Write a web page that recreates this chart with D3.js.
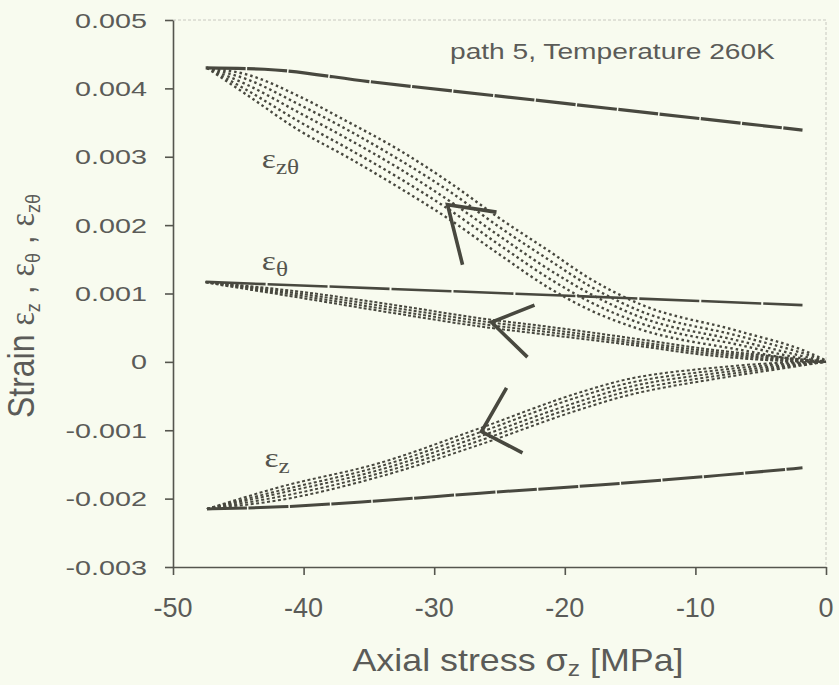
<!DOCTYPE html>
<html>
<head>
<meta charset="utf-8">
<script src="https://cdn.jsdelivr.net/npm/d3@7"></script>
<style>
  body { margin: 0; background: #f8fbef; }
  svg { display: block; }
</style>
</head>
<body>
<script>
// strain values are in units of 1e-3, stress in MPa

// axis ticks
const xTicks = [-50, -40, -30, -20, -10, 0];
const yTicks = [5, 4, 3, 2, 1, 0, -1, -2, -3];
const yTickLabels = ["0.005", "0.004", "0.003", "0.002", "0.001", "0", "-0.001", "-0.002", "-0.003"];

// eps_z-theta : dotted cycles and solid line
const zthX = [-47.4, -44.3, -40.3, -36.7, -32.7, -28.8, -25, -21.2, -18.1, -14.3, -6.7, -1.5, 0];
const zthCycles = [
  [4.30, 4.20, 3.88, 3.52, 3.10, 2.62, 2.10, 1.62, 1.22, 0.85, 0.45, 0.15, 0.02],
  [4.30, 4.13, 3.76, 3.40, 2.96, 2.49, 1.97, 1.49, 1.11, 0.75, 0.38, 0.11, 0.01],
  [4.30, 4.05, 3.64, 3.27, 2.83, 2.35, 1.84, 1.35, 1.00, 0.66, 0.31, 0.07, 0.00],
  [4.30, 3.97, 3.51, 3.13, 2.69, 2.22, 1.71, 1.22, 0.88, 0.57, 0.25, 0.04, 0.00],
  [4.30, 3.90, 3.38, 3.00, 2.55, 2.08, 1.57, 1.08, 0.76, 0.48, 0.18, 0.02, 0.00]
];
const zthSolidX = [-47.5, -43, -35, -20, -1.8];
const zthSolid = [4.30, 4.28, 4.10, 3.78, 3.39];

// eps_theta
const thX = [-47.5, -40, -33, -25.8, -21.9, -15, -9.2, -4, 0];
const thCycles = [
  [1.17, 1.02, 0.83, 0.62, 0.53, 0.35, 0.19, 0.08, 0.00],
  [1.17, 0.99, 0.79, 0.58, 0.49, 0.31, 0.16, 0.06, 0.00],
  [1.17, 0.96, 0.75, 0.54, 0.45, 0.28, 0.13, 0.04, 0.00],
  [1.16, 0.93, 0.71, 0.50, 0.41, 0.25, 0.10, 0.02, 0.00]
];
const thSolidX = [-47.5, -24.2, -1.8];
const thSolid = [1.17, 1.00, 0.83];

// eps_z
const zX = [-47.4, -41.8, -34.2, -26.5, -18.9, -15.8, -8.2, -3.1, 0];
const zCycles = [
  [-2.15, -1.83, -1.48, -0.97, -0.45, -0.28, -0.08, -0.01, 0],
  [-2.15, -1.88, -1.53, -1.03, -0.51, -0.34, -0.12, -0.03, 0],
  [-2.15, -1.92, -1.58, -1.09, -0.58, -0.40, -0.16, -0.05, 0],
  [-2.15, -1.97, -1.63, -1.15, -0.64, -0.46, -0.20, -0.07, 0],
  [-2.15, -2.02, -1.68, -1.21, -0.70, -0.52, -0.24, -0.09, 0]
];
const zSolidX = [-47.4, -41.8, -34.2, -26.5, -17.4, -8.2, -1.8];
const zSolid = [-2.15, -2.12, -2.03, -1.92, -1.80, -1.66, -1.55];

// direction arrows: tip and two arm ends
const arrows = [
  { tip: [-28.98, 2.30], a: [-25.23, 2.19], b: [-27.83, 1.42] },
  { tip: [-25.61, 0.58], a: [-22.32, 0.83], b: [-22.86, 0.07] },
  { tip: [-26.38, -1.02], a: [-24.46, -0.38], b: [-23.24, -1.33] }
];

const ink = "#48483f";
const textCol = "#5b5b58";

const svg = d3.select("body").append("svg")
  .attr("width", 839)
  .attr("height", 685);

svg.append("rect")
  .attr("width", 839)
  .attr("height", 685)
  .attr("fill", "#f8fbef");

const x = d3.scaleLinear().domain([-50, 0]).range([173, 826]);
const y = d3.scaleLinear().domain([-3, 5]).range([567, 20]);

// faint frame top / right
svg.append("path")
  .attr("d", `M${x(-50)},${y(5)}H${x(0)}V${y(-3)}`)
  .attr("fill", "none")
  .attr("stroke", "#c8c8c0")
  .attr("stroke-dasharray", "3,2");

// axes
svg.append("g")
  .attr("transform", `translate(${x(-50)},0)`)
  .call(d3.axisLeft(y).tickValues(yTicks).tickSize(8).tickSizeOuter(0).tickFormat(""));
svg.append("g")
  .attr("transform", `translate(0,${y(-3)})`)
  .call(d3.axisBottom(x).tickValues(xTicks).tickSize(8).tickSizeOuter(0).tickFormat(""));
svg.selectAll(".domain, .tick line")
  .attr("stroke", "#55554e")
  .attr("stroke-width", 1.6);

// tick labels (the scan is stretched horizontally)
yTicks.forEach((t, i) => {
  svg.append("text")
    .attr("transform", `translate(147,${y(t) + 7.5}) scale(1.37,1)`)
    .attr("text-anchor", "end")
    .attr("font-family", "Liberation Sans, Arial, sans-serif")
    .attr("font-size", 21)
    .attr("fill", textCol)
    .text(yTickLabels[i]);
});
xTicks.forEach(t => {
  svg.append("text")
    .attr("x", x(t))
    .attr("y", 617)
    .attr("text-anchor", "middle")
    .attr("font-family", "Liberation Sans, Arial, sans-serif")
    .attr("font-size", 27)
    .attr("fill", textCol)
    .text(t);
});

// axis titles
const xt = svg.append("text")
  .attr("transform", "translate(518,671) scale(1.12,1)")
  .attr("text-anchor", "middle")
  .attr("font-family", "Liberation Sans, Arial, sans-serif")
  .attr("font-size", 32)
  .attr("fill", textCol);
xt.append("tspan").text("Axial stress σ");
xt.append("tspan").attr("font-size", 22).attr("dy", 5).text("z");
xt.append("tspan").attr("dy", -5).text(" [MPa]");

const yt = svg.append("text")
  .attr("transform", "translate(34,306) scale(1.15,1) rotate(-90)")
  .attr("text-anchor", "middle")
  .attr("font-family", "Liberation Sans, Arial, sans-serif")
  .attr("font-size", 32)
  .attr("fill", textCol);
yt.append("tspan").text("Strain ");
yt.append("tspan").attr("font-family", "Liberation Serif, serif").text("ε");
yt.append("tspan").attr("font-size", 18).attr("dy", 5).text("z");
yt.append("tspan").attr("dy", -5).text(" , ");
yt.append("tspan").attr("font-family", "Liberation Serif, serif").text("ε");
yt.append("tspan").attr("font-size", 18).attr("dy", 5).text("θ");
yt.append("tspan").attr("dy", -5).text(" , ");
yt.append("tspan").attr("font-family", "Liberation Serif, serif").text("ε");
yt.append("tspan").attr("font-size", 18).attr("dy", 5).text("zθ");

// annotation
svg.append("text")
  .attr("transform", "translate(450,59) scale(1.28,1)")
  .attr("font-family", "Liberation Sans, Arial, sans-serif")
  .attr("font-size", 22)
  .attr("fill", textCol)
  .text("path 5, Temperature 260K");

// curves
function drawSeries(xs, ys, dash, width) {
  const line = d3.line()
    .x((d, i) => x(xs[i]))
    .y(d => y(d))
    .curve(d3.curveMonotoneX);
  svg.append("path")
    .attr("d", line(ys))
    .attr("fill", "none")
    .attr("stroke", ink)
    .attr("stroke-width", width)
    .attr("stroke-dasharray", dash);
}

zthCycles.forEach(c => drawSeries(zthX, c, "2.5,3", 2.4));
thCycles.forEach(c => drawSeries(thX, c, "3,2", 2));
zCycles.forEach(c => drawSeries(zX, c, "3,2.5", 2));

drawSeries(zthSolidX, zthSolid, "40,1.5", 3.2);
drawSeries(thSolidX, thSolid, "60,2", 2.6);
drawSeries(zSolidX, zSolid, "40,1.5", 3);

// arrows
arrows.forEach(a => {
  svg.append("path")
    .attr("d", `M${x(a.a[0])},${y(a.a[1])}L${x(a.tip[0])},${y(a.tip[1])}L${x(a.b[0])},${y(a.b[1])}`)
    .attr("fill", "none")
    .attr("stroke", ink)
    .attr("stroke-width", 3.6);
});

// curve labels
function epsLabel(px, py, sub) {
  const t = svg.append("text")
    .attr("transform", `translate(${x(px)},${y(py)}) scale(1.2,1)`)
    .attr("font-family", "Liberation Serif, serif")
    .attr("font-size", 28)
    .attr("fill", "#55554e");
  t.append("tspan").text("ε");
  t.append("tspan").attr("font-size", 21).attr("dy", 6).text(sub);
}
epsLabel(-43.2, 2.84, "zθ");
epsLabel(-43.2, 1.345, "θ");
epsLabel(-43.0, -1.535, "z");
</script>
</body>
</html>
